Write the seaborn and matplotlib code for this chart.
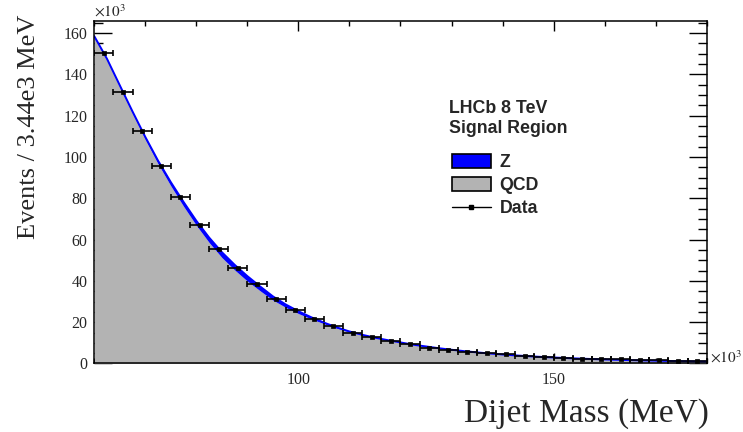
import matplotlib
matplotlib.use("Agg")
import pandas as pd
import matplotlib.pyplot as plt
import seaborn as sns
from matplotlib.patches import Patch
from matplotlib.lines import Line2D
from matplotlib.ticker import MultipleLocator


# data points (x in 10^3 MeV, counts in 10^3 events)
bin_centers = [61.875, 65.625, 69.375, 73.125, 76.875, 80.625, 84.375, 88.125,
               91.875, 95.625, 99.375, 103.125, 106.875, 110.625, 114.375, 118.125,
               121.875, 125.625, 129.375, 133.125, 136.875, 140.625, 144.375, 148.125,
               151.875, 155.625, 159.375, 163.125, 166.875, 170.625, 174.375, 178.125]
data_counts = [150.4, 131.5, 112.6, 95.4, 80.6, 67.0, 55.6, 46.4,
               38.5, 31.4, 26.1, 21.7, 18.1, 15.0, 12.9, 11.0,
               9.4, 7.6, 6.5, 5.8, 5.0, 4.5, 3.7, 3.2,
               2.8, 2.4, 2.2, 2.0, 1.7, 1.5, 1.3, 1.1]
bin_half_width = 1.875

# fitted model components
curve_x = [60, 62.5, 65, 67.5, 70, 72.5, 75, 77.5, 80, 82.5, 85, 87.5, 90, 92.5,
           95, 97.5, 100, 102.5, 105, 107.5, 110, 112.5, 115, 117.5, 120, 122.5,
           125, 127.5, 130, 132.5, 135, 137.5, 140, 142.5, 145, 147.5, 150, 152.5,
           155, 157.5, 160, 162.5, 165, 167.5, 170, 172.5, 175, 177.5, 180]
qcd_curve = [158.1, 146.9, 133.9, 121.1, 108.5, 96.7, 86.0, 76.1, 66.9, 58.6,
             51.3, 45.3, 39.9, 35.2, 30.7, 27.2, 24.2, 21.6, 19.3, 17.1,
             15.3, 13.8, 12.4, 11.25, 10.2, 9.1, 8.25, 7.4, 6.65, 5.97,
             5.37, 4.83, 4.35, 3.92, 3.54, 3.2, 2.9, 2.63, 2.38, 2.16,
             1.96, 1.78, 1.62, 1.48, 1.35, 1.23, 1.12, 1.02, 0.93]
z_curve = [0.4, 0.6, 0.8, 0.9, 1.2, 1.5, 1.8, 2.1, 2.2, 2.4,
           2.6, 2.5, 2.4, 2.1, 1.8, 1.4, 1.1, 0.8, 0.5, 0.4,
           0.2, 0.1, 0.1, 0.05, 0, 0, 0, 0, 0, 0,
           0, 0, 0, 0, 0, 0, 0, 0, 0, 0,
           0, 0, 0, 0, 0, 0, 0, 0, 0]

data_df = pd.DataFrame({"mass": bin_centers, "events": data_counts})
curve_df = pd.DataFrame({"mass": curve_x, "qcd": qcd_curve, "z": z_curve})
curve_df["total"] = curve_df["qcd"] + curve_df["z"]

sns.set_style("ticks")
plt.rcParams["font.family"] = ["Liberation Serif", "DejaVu Serif"]
plt.rcParams["mathtext.fontset"] = "stix"

fig = plt.figure(figsize=(7.43, 4.32), dpi=100)
ax = fig.add_axes([0.1269, 0.1586, 0.8242, 0.7935])

grey = "#b3b3b3"
blue = "#0000ff"

ax.fill_between(curve_df["mass"], 0, curve_df["qcd"], color=grey, lw=0)
ax.fill_between(curve_df["mass"], curve_df["qcd"], curve_df["total"], color=blue, lw=0)
sns.lineplot(data=curve_df, x="mass", y="total", color=blue, lw=1.4, ax=ax)

ax.errorbar(data_df["mass"], data_df["events"], xerr=bin_half_width, fmt="none",
            ecolor="black", elinewidth=1.2, capsize=2, capthick=1.2, zorder=4)
sns.scatterplot(data=data_df, x="mass", y="events", marker="s", s=7,
                color="black", edgecolor="black", linewidth=0.5, ax=ax, zorder=5)

ax.set_xlim(60, 180)
ax.set_ylim(0, 166)
ax.xaxis.set_major_locator(MultipleLocator(50))
ax.xaxis.set_minor_locator(MultipleLocator(10))
ax.yaxis.set_major_locator(MultipleLocator(20))
ax.yaxis.set_minor_locator(MultipleLocator(5))
ax.tick_params(which="both", direction="in", top=True, right=True, labelsize=11.5,
               width=1, color="black")
ax.tick_params(axis="y", which="major", length=13, pad=5)
ax.tick_params(axis="y", which="minor", length=6.5)
ax.tick_params(axis="x", which="major", length=7, pad=6)
ax.tick_params(axis="x", which="minor", length=3.5)
for s in ax.spines.values():
    s.set_linewidth(1.1)
    s.set_color("black")

ax.set_xlabel("Dijet Mass (MeV)", fontsize=24, loc="right")
ax.set_ylabel("Events / 3.44e3 MeV", fontsize=19, loc="top")
ax.xaxis.set_label_coords(1.003, -0.102)
ax.yaxis.set_label_coords(-0.088, 1.017)

ax.text(0.0, 1.004, r"$\times10^{3}$", transform=ax.transAxes, ha="left",
        va="bottom", fontsize=11)
ax.text(1.005, -0.005, r"$\times10^{3}$", transform=ax.transAxes, ha="left",
        va="bottom", fontsize=11)

sans_bold = {"family": "Liberation Sans", "weight": "bold", "size": 12.8}
ax.text(0.579, 0.7316, "LHCb 8 TeV", transform=ax.transAxes, va="baseline",
        fontdict=sans_bold)
ax.text(0.579, 0.6733, "Signal Region", transform=ax.transAxes, va="baseline",
        fontdict=sans_bold)

handles = [
    Patch(facecolor=blue, edgecolor="black", linewidth=1.2, label="Z"),
    Patch(facecolor=grey, edgecolor="black", linewidth=1.2, label="QCD"),
    Line2D([], [], color="black", lw=1, marker="s", markersize=3.5, label="Data"),
]
ax.legend(handles=handles, loc="upper left", bbox_to_anchor=(0.5836, 0.612),
          frameon=False, prop=sans_bold, handlelength=2.2, handleheight=0.85,
          handletextpad=0.5, labelspacing=0.33, borderpad=0, borderaxespad=0)

fig.savefig("out.png", dpi=100)
